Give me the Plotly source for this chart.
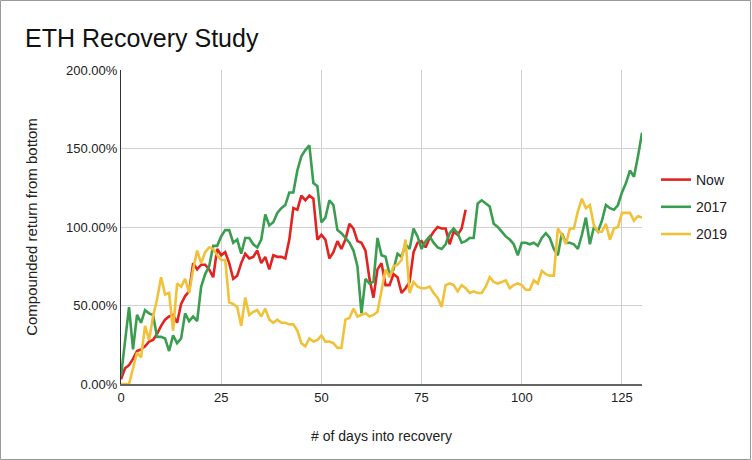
import plotly.graph_objects as go

days_now = list(range(0, 87))
now_vals = [3, 10, 12, 16, 21, 22, 24, 27, 28, 32, 37, 41, 43, 44, 39, 51, 56, 59, 77, 73,
            76, 76, 73, 68, 86, 82, 84, 77, 67, 69, 77, 83, 80, 81, 85, 77, 81, 73, 82, 81,
            81, 80, 92, 112, 111, 120, 117, 120, 118, 92, 95, 92, 80, 84, 91, 86, 92, 102, 99, 91,
            90, 85, 67, 55, 73, 77, 63, 63, 70, 68, 58, 61, 65, 84, 90, 91, 87, 93, 97, 100,
            99, 99, 89, 97, 95, 99, 111]

days_full = list(range(0, 131))
y2017 = [5, 27, 49, 22, 44, 39, 47, 45, 44, 30, 30, 29, 21, 31, 26, 29, 45, 40, 43, 40,
         62, 70, 75, 88, 88, 94, 98, 98, 90, 92, 83, 93, 93, 89, 87, 92, 108, 101, 103, 109,
         112, 114, 122, 122, 136, 145, 149, 152, 128, 126, 103, 106, 117, 114, 98, 96, 93, 90, 85, 75,
         45, 67, 64, 65, 93, 82, 81, 70, 73, 83, 81, 89, 86, 99, 94, 86, 91, 94, 90, 87,
         86, 89, 96, 99, 96, 90, 91, 93, 93, 115, 117, 115, 113, 102, 100, 97, 94, 92, 89, 82,
         90, 90, 89, 90, 88, 93, 96, 93, 86, 82, 96, 90, 90, 89, 86, 95, 106, 89, 100, 97,
         104, 114, 112, 111, 114, 122, 128, 136, 132, 145, 160]
y2019 = [0, 0, 0, 10, 20, 17, 37, 28, 43, 54, 68, 57, 58, 34, 64, 62, 67, 58, 73, 85,
         77, 84, 87, 86, 82, 79, 79, 52, 51, 49, 37, 55, 44, 46, 47, 43, 48, 41, 39, 41,
         39, 39, 38, 38, 34, 26, 24, 29, 27, 28, 31, 27, 27, 26, 23, 23, 41, 42, 48, 43,
         44, 45, 43, 44, 46, 60, 73, 68, 75, 76, 79, 92, 58, 65, 62, 61, 61, 62, 58, 55,
         49, 63, 64, 63, 59, 63, 61, 58, 59, 58, 58, 62, 68, 65, 64, 65, 66, 61, 63, 64,
         63, 60, 60, 66, 64, 72, 70, 69, 69, 99, 95, 89, 99, 99, 110, 118, 112, 114, 101, 97,
         97, 102, 92, 99, 100, 109, 109, 109, 104, 107, 106]

series = [
    ("Now", days_now, now_vals, "#e2231f"),
    ("2017", days_full, y2017, "#3a9d4f"),
    ("2019", days_full, y2019, "#f2c13a"),
]

x_ticks = [0, 25, 50, 75, 100, 125]
y_ticks = [0, 0.5, 1.0, 1.5, 2.0]

FONT = "Liberation Sans, Arial, sans-serif"

fig = go.Figure()
for i, (name, xs, vals, color) in enumerate(series):
    fig.add_trace(go.Scatter(
        x=xs, y=[v / 100 for v in vals], mode="lines", name=name,
        line=dict(color=color, width=2.6), legendgroup=str(i),
    ))

L, R, T, B = 121, 642, 70, 384
W, H = 752, 460
pw, ph = R - L, B - T

fig.update_layout(
    width=W, height=H,
    margin=dict(l=L, r=W - R, t=T, b=H - B),
    paper_bgcolor="white", plot_bgcolor="white",
    font=dict(family=FONT, color="#222222", size=13),
    title=dict(text="ETH Recovery Study", x=25 / W, xanchor="left",
               y=1 - 38 / H, yanchor="middle",
               font=dict(size=25, color="#111111", family=FONT)),
    showlegend=True,
    legend=dict(x=(656 - L) / pw, xanchor="left", y=(B - 164) / ph, yanchor="top",
                font=dict(size=14, color="#222222"), tracegroupgap=6,
                itemwidth=30, bgcolor="rgba(0,0,0,0)"),
    xaxis=dict(range=[0, 130], tickvals=x_ticks, ticktext=[str(t) for t in x_ticks],
               showgrid=True, gridcolor="#d0d0d0", gridwidth=1,
               zeroline=False, showline=True, linecolor="#666666", linewidth=2,
               ticks="", tickfont=dict(size=13, color="#222222"),
               title=dict(text="# of days into recovery", font=dict(size=14, color="#222222"),
                          standoff=28)),
    yaxis=dict(range=[0, 2.0], tickvals=y_ticks, tickformat=".2%",
               showgrid=True, gridcolor="#d0d0d0", gridwidth=1,
               zeroline=False, showline=True, linecolor="#333333", linewidth=1,
               ticks="", tickfont=dict(size=13, color="#222222"),
               title=dict(text="Compounded return from bottom", font=dict(size=15, color="#222222"),
                          standoff=24)),
    shapes=[dict(type="rect", xref="paper", yref="paper",
                 x0=(0.5 - L) / pw, x1=(W - 1.5 - L) / pw,
                 y0=(B - (H - 0.5)) / ph, y1=(B - 0.5) / ph,
                 line=dict(color="#9a9a9a", width=1), fillcolor="rgba(0,0,0,0)", layer="below")],
)

fig.write_html("out.html")
